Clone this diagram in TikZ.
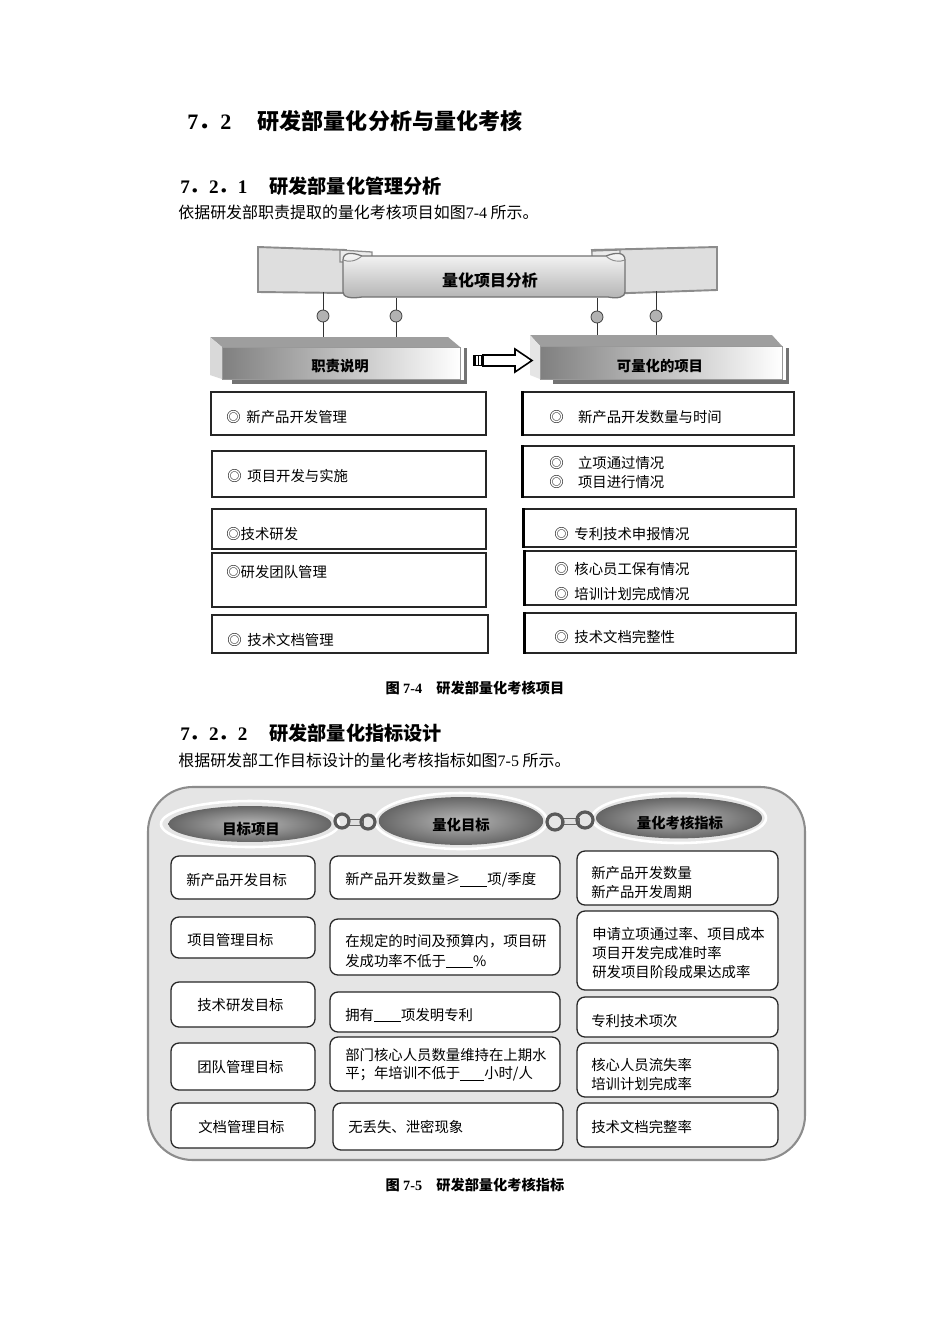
\documentclass[tikz,border=0pt]{standalone}
\usepackage{fontspec}
\setmainfont{Noto Sans CJK SC}
\newfontfamily\lat{Liberation Serif}
\usetikzlibrary{fit,shapes.geometric}
\newcommand\blank[1]{\rule[-0.12em]{#1}{0.45pt}}
\begin{document}
\begin{tikzpicture}[x=0.6262pt,y=-0.6262pt,
  fbox/.style={draw=black!85, line width=0.8pt, inner sep=0pt, fill=white},
  rbox/.style={draw=black!85, line width=0.8pt, rounded corners=5pt, inner sep=0pt, fill=white},
  txt/.style={anchor=west, inner sep=0pt, font=\fontsize{9}{12}\selectfont, align=left},
  hdr/.style={font=\bfseries\fontsize{9}{11}\selectfont, inner sep=0pt},
  dot/.style={circle, draw=black!75, fill=black!30, minimum size=7.5pt, inner sep=0pt, line width=0.5pt},
  ell/.style={ellipse, inner sep=0pt, shading=radial, inner color=black!28, outer color=black!60, font=\bfseries\fontsize{9}{11}\selectfont},
  ring/.style={white, line width=1.6pt},
  chainring/.style={draw=black!65, line width=2pt},
  chainbar/.style={fill=black!12, draw=black!60, line width=0.6pt},
  flap/.style={fill=black!13, draw=black!45, line width=1.2pt},
  conn/.style={draw=black!80, line width=0.6pt}
]
\useasboundingbox (0,0) rectangle (950,1344);
\fill[white] (0,0) rectangle (950,1344);

% ---------- headings ----------
\node[anchor=west, inner sep=0pt, font=\bfseries\fontsize{13.8}{16}\selectfont] (t1) at (187,121)
  {{\lat 7}．{\lat 2}\hspace{1.2em}研发部量化分析与量化考核};
\node[anchor=west, inner sep=0pt, font=\bfseries\fontsize{12}{14}\selectfont] (t2) at (180,186)
  {{\lat 7}．{\lat 2}．{\lat 1}\hspace{1.15em}研发部量化管理分析};
\node[anchor=west, inner sep=0pt, font=\fontsize{10}{12}\selectfont] (b1) at (178,212)
  {依据研发部职责提取的量化考核项目如图{\lat 7-4} 所示。};

% ---------- figure 7-4 banner ----------
\path[flap] (258,247) -- (346,250) -- (346,293) -- (258,292) -- cycle;
\path[flap] (592,250) -- (717,247) -- (717,290) -- (600,294) -- cycle;
\path[fill=black!8, draw=black!45, line width=0.8pt] (340,250) -- (372,252) -- (372,262) -- (340,262) -- cycle;
\path[fill=black!8, draw=black!45, line width=0.8pt] (592,251) -- (620,250) -- (620,262) -- (592,262) -- cycle;
\path[top color=black!3, bottom color=black!30, draw=black!55, line width=0.8pt]
  (343,260) .. controls (343,252) and (352,252) .. (362,256) -- (606,256)
  .. controls (616,252) and (625,252) .. (625,260) -- (625,292)
  .. controls (625,297) and (618,299) .. (608,297) -- (362,297)
  .. controls (350,299) and (343,297) .. (343,292) -- cycle;
\draw[black!45, line width=0.6pt] (343,260) .. controls (348,262) and (355,262) .. (362,256);
\draw[black!45, line width=0.6pt] (625,260) .. controls (620,262) and (612,262) .. (606,256);
\node[hdr, font=\bfseries\fontsize{10}{12}\selectfont] (scroll) at (490,280) {量化项目分析};

% header boxes
\path[fill=black!38] (210,337) -- (448,337) -- (460,347) -- (222,347) -- cycle;
\path[fill=black!15] (210,337) -- (222,347) -- (222,379) -- (210,375) -- cycle;
\path[left color=black!50, right color=white, draw=black!40, line width=0.4pt] (222,347) rectangle (460,379);
\path[fill=black!55] (232,380) rectangle (467,384);
\path[fill=black!55] (464,348) rectangle (467,384);
\node[hdr] (hL) at (340,366) {职责说明};

\path[fill=black!38] (530,335) -- (772,335) -- (782,346) -- (540,346) -- cycle;
\path[fill=black!10] (530,335) -- (540,346) -- (540,379) -- (530,375) -- cycle;
\path[left color=black!50, right color=white, draw=black!40, line width=0.4pt] (540,346) rectangle (782,379);
\path[fill=black!55] (553,380) rectangle (789,384);
\path[fill=black!55] (786,348) rectangle (789,384);
\node[hdr] (hR) at (660,366) {可量化的项目};

% connectors with dots
\coordinate (f1) at (323,292); \coordinate (g1) at (323,337);
\coordinate (f2) at (396,298); \coordinate (g2) at (396,337);
\coordinate (f3) at (597,298); \coordinate (g3) at (597,335);
\coordinate (f4) at (656,291); \coordinate (g4) at (656,335);
\node[dot] (d1) at (323,316) {};
\node[dot] (d2) at (396,316) {};
\node[dot] (d3) at (597,317) {};
\node[dot] (d4) at (656,316) {};
\draw[conn] (f1) -- (d1) -- (g1);
\draw[conn] (f2) -- (d2) -- (g2);
\draw[conn] (f3) -- (d3) -- (g3);
\draw[conn] (f4) -- (d4) -- (g4);

% block arrow
\path[fill=black] (473,355) rectangle (483,366);
\draw[white, line width=0.7pt] (477,356) -- (477,365) (480,356) -- (480,365);
\draw[fill=white, draw=black, line width=1pt] (483,355) -- (515,355) -- (515,349) -- (532,360.5) -- (515,372) -- (515,366) -- (483,366) -- cycle;

% left column boxes
\node[fbox, fit={(211,392) (486,435)}] (L1) {};
\node[fbox, fit={(212,451) (486,497)}] (L2) {};
\node[fbox, fit={(212,509) (486,549)}] (L3) {};
\node[fbox, fit={(212,553) (486,607)}, line width=1pt] (L4) {};
\node[fbox, fit={(212,615) (488,653)}] (L5) {};
\node[txt] (L1t) at (226,417) {◎\hspace{0.4em}新产品开发管理};
\node[txt] (L2t) at (227,476) {◎\hspace{0.4em}项目开发与实施};
\node[txt] (L3t) at (226,534) {◎技术研发};
\node[txt] (L4t) at (226,572) {◎研发团队管理};
\node[txt] (L5t) at (227,640) {◎\hspace{0.4em}技术文档管理};

% right column boxes
\node[fbox, fit={(523,392) (794,435)}] (R1) {};
\node[fbox, fit={(523,446) (794,497)}] (R2) {};
\node[fbox, fit={(524,509) (796,547)}] (R3) {};
\node[fbox, fit={(525,551) (796,605)}] (R4) {};
\node[fbox, fit={(525,613) (796,653)}] (R5) {};
\foreach \b in {R1,R2,R3,R4,R5} \draw[black, line width=1.6pt] (\b.north west) -- (\b.south west);
\node[txt] (R1t) at (549,417) {◎\quad 新产品开发数量与时间};
\node[txt, font=\fontsize{9}{11.9}\selectfont] (R2t) at (549,472.5) {◎\quad 立项通过情况\\◎\quad 项目进行情况};
\node[txt] (R3t) at (554,534) {◎\hspace{0.4em}专利技术申报情况};
\node[txt, font=\fontsize{9}{15.7}\selectfont] (R4t) at (554,581.5) {◎\hspace{0.4em}核心员工保有情况\\◎\hspace{0.4em}培训计划完成情况};
\node[txt] (R5t) at (554,637) {◎\hspace{0.4em}技术文档完整性};

\node[inner sep=0pt, font=\bfseries\fontsize{8.9}{11}\selectfont] (cap1) at (475,688)
  {图 {\lat 7-4}\hspace{1em}研发部量化考核项目};

% ---------- section 7.2.2 ----------
\node[anchor=west, inner sep=0pt, font=\bfseries\fontsize{12}{14}\selectfont] (t3) at (180,733)
  {{\lat 7}．{\lat 2}．{\lat 2}\hspace{1.15em}研发部量化指标设计};
\node[anchor=west, inner sep=0pt, font=\fontsize{10}{12}\selectfont] (b2) at (178,760)
  {根据研发部工作目标设计的量化考核指标如图{\lat 7-5} 所示。};

% ---------- figure 7-5 ----------
\draw[fill=black!10, draw=black!45, line width=1.3pt, rounded corners=28pt] (148,787) rectangle (805,1160);

\node[ell, minimum width=102pt, minimum height=22.5pt] (e1) at (250,824) {};
\node[ell, minimum width=103pt, minimum height=30pt] (e2) at (461,821) {};
\node[ell, minimum width=104pt, minimum height=25.5pt] (e3) at (679,818) {};
\draw[ring] (250,824) ellipse [x radius=89, y radius=23];
\draw[ring] (461,821) ellipse [x radius=86, y radius=28];
\draw[ring] (679,818) ellipse [x radius=87, y radius=25];
\node[hdr] at (251,829) {目标项目};
\node[hdr] at (461,825) {量化目标};
\node[hdr] at (680,823) {量化考核指标};

% chains
\path[chainbar] (347,819) rectangle (363,825);
\draw[chainring] (342,821) circle (7);
\draw[chainring] (368,822) circle (7);
\path[chainbar] (561,818) rectangle (579,824);
\draw[chainring] (555,822) circle (8);
\draw[chainring] (585,820) circle (8);

% column 1
\node[rbox, fit={(171,856) (315,899)}] (A1) {};
\node[rbox, fit={(171,917) (315,958)}] (A2) {};
\node[rbox, fit={(171,982) (315,1027)}] (A3) {};
\node[rbox, fit={(171,1043) (315,1090)}] (A4) {};
\node[rbox, fit={(171,1103) (315,1148)}] (A5) {};
\node[txt] at (186,880) {新产品开发目标};
\node[txt] at (187,940) {项目管理目标};
\node[txt] at (197,1005) {技术研发目标};
\node[txt] at (197,1067) {团队管理目标};
\node[txt] at (198,1127) {文档管理目标};

% column 2
\node[rbox, fit={(330,856) (560,899)}] (B1) {};
\node[rbox, fit={(330,919) (560,975)}] (B2) {};
\node[rbox, fit={(330,992) (560,1032)}] (B3) {};
\node[rbox, fit={(330,1037) (560,1091)}] (B4) {};
\node[rbox, fit={(333,1103) (563,1150)}] (B5) {};
\node[txt] at (345,880) {新产品开发数量≥\blank{17pt}项/季度};
\node[txt, font=\fontsize{9}{12.3}\selectfont] at (345,951) {在规定的时间及预算内，项目研\\发成功率不低于\blank{17pt}\%};
\node[txt] at (345,1015) {拥有\blank{17pt}项发明专利};
\node[txt, font=\fontsize{9}{11.3}\selectfont] at (345,1065) {部门核心人员数量维持在上期水\\平；年培训不低于\blank{15pt}小时/人};
\node[txt] at (348,1127) {无丢失、泄密现象};

% column 3
\node[rbox, fit={(577,851) (778,905)}] (C1) {};
\node[rbox, fit={(577,911) (778,990)}] (C2) {};
\node[rbox, fit={(577,997) (778,1037)}] (C3) {};
\node[rbox, fit={(577,1043) (778,1097)}] (C4) {};
\node[rbox, fit={(577,1103) (778,1147)}] (C5) {};
\node[txt, font=\fontsize{9}{11.9}\selectfont] at (591,882.5) {新产品开发数量\\新产品开发周期};
\node[txt, font=\fontsize{9}{11.9}\selectfont] at (592,953) {申请立项通过率、项目成本\\项目开发完成准时率\\研发项目阶段成果达成率};
\node[txt] at (591,1021) {专利技术项次};
\node[txt, font=\fontsize{9}{11.9}\selectfont] at (591,1074.5) {核心人员流失率\\培训计划完成率};
\node[txt] at (591,1127) {技术文档完整率};

\node[inner sep=0pt, font=\bfseries\fontsize{8.9}{11}\selectfont] (cap2) at (475,1185)
  {图 {\lat 7-5}\hspace{1em}研发部量化考核指标};
\end{tikzpicture}
\end{document}
